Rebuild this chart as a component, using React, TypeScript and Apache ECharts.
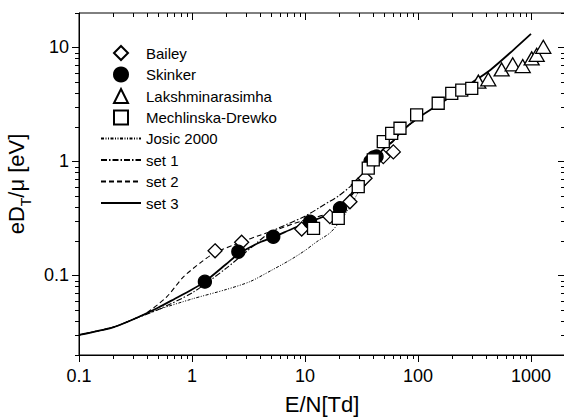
import React, { useEffect, useRef } from "react";
import * as echarts from "echarts";

const X_MIN = 0.1;
const X_MAX = 2000;
const Y_MIN = 0.02;
const Y_MAX = 20;

const xLabelTicks = [0.1, 1, 10, 100, 1000];
const yLabelTicks = [0.1, 1, 10];
// [value, tick length]
const xTickMarks = [
  [0.1, 7], [0.2, 4], [0.3, 4], [0.4, 4], [0.5, 4], [0.6, 4], [0.7, 4], [0.8, 4], [0.9, 4],
  [1, 7], [2, 4], [3, 4], [4, 4], [5, 4], [6, 4], [7, 4], [8, 4], [9, 4],
  [10, 7], [20, 4], [30, 4], [40, 4], [50, 4], [60, 4], [70, 4], [80, 4], [90, 4],
  [100, 7], [200, 4], [300, 4], [400, 4], [500, 4], [600, 4], [700, 4], [800, 4], [900, 4],
  [1000, 7], [2000, 4],
];
const yTickMarks = [
  [0.02, 4], [0.03, 4], [0.04, 4], [0.05, 4], [0.06, 4], [0.07, 4], [0.08, 4], [0.09, 4],
  [0.1, 7], [0.2, 4], [0.3, 4], [0.4, 4], [0.5, 4], [0.6, 4], [0.7, 4], [0.8, 4], [0.9, 4],
  [1, 7], [2, 4], [3, 4], [4, 4], [5, 4], [6, 4], [7, 4], [8, 4], [9, 4],
  [10, 7], [20, 4],
];

const legendNames = [
  "Bailey",
  "Skinker",
  "Lakshminarasimha",
  "Mechlinska-Drewko",
  "Josic 2000",
  "set 1",
  "set 2",
  "set 3",
];

const baileyData = [
  [1.6, 0.164], [2.75, 0.195], [9.35, 0.255], [16.6, 0.327], [25, 0.442],
  [29.6, 0.62], [34, 0.71], [38.9, 0.99], [49.3, 1.1], [60.5, 1.21],
];
const skinkerData = [
  [1.3, 0.088], [2.57, 0.161], [5.24, 0.218], [11.1, 0.295], [20.4, 0.387],
  [38, 1.0], [40.5, 1.08], [43, 1.1],
];
const lakshData = [
  [342, 5.0], [419, 5.24], [550, 6.4], [689, 7.1], [845, 6.85],
  [1014, 8.0], [1123, 8.6], [1285, 10.1],
];
const mechData = [
  [11.9, 0.258], [19.7, 0.316], [29.6, 0.6], [36.3, 0.87], [40.2, 1.03],
  [49.3, 1.49], [58.5, 1.76], [69.3, 1.95], [97.3, 2.55], [151, 3.23],
  [199, 3.95], [244, 4.22], [299, 4.37],
];

const josicLine = [
  [0.1, 0.03], [0.2, 0.035], [0.3, 0.041], [0.4, 0.046], [0.5, 0.05],
  [1, 0.062], [2, 0.075], [3.26, 0.088], [5, 0.11], [7.36, 0.136],
  [10, 0.165], [12.7, 0.197], [16.6, 0.235], [20, 0.29], [25, 0.4],
  [30, 0.55], [35, 0.75], [40, 0.95], [50, 1.3], [60, 1.5], [70, 1.8],
  [100, 2.4],
];
const set1Line = [
  [0.1, 0.03], [0.2, 0.035], [0.3, 0.041], [0.5, 0.05], [1, 0.07],
  [2, 0.115], [3, 0.16], [5, 0.24], [10, 0.33], [15, 0.42], [20, 0.5],
  [28, 0.66], [35, 0.85], [40, 1.02], [50, 1.3], [60, 1.5], [70, 1.8],
  [100, 2.4],
];
const set2Line = [
  [0.1, 0.03], [0.2, 0.035], [0.3, 0.041], [0.4, 0.047], [0.6, 0.065],
  [0.84, 0.097], [1.2, 0.13], [1.6, 0.158], [2.7, 0.195], [4, 0.225],
  [5.2, 0.245], [9.4, 0.3], [15, 0.34], [20, 0.38], [25, 0.48], [30, 0.62],
  [40, 1.0], [50, 1.3], [60, 1.5], [70, 1.8], [100, 2.4],
];
const set3Line = [
  [0.1, 0.03], [0.2, 0.035], [0.3, 0.041], [0.5, 0.052], [0.7, 0.062],
  [1, 0.075], [1.3, 0.088], [2, 0.125], [2.6, 0.155], [4, 0.195],
  [5.2, 0.215], [8, 0.26], [11, 0.295], [15, 0.33], [20, 0.38], [25, 0.5],
  [30, 0.64], [35, 0.82], [40, 1.0], [45, 1.15], [50, 1.3], [60, 1.5],
  [70, 1.8], [100, 2.4], [180, 3.5], [300, 4.9], [434, 6.3], [700, 9.5],
  [1000, 13.1],
];

const FONT = "'Liberation Sans', Arial, Helvetica, sans-serif";
const isPow10 = (v: number) => {
  const l = Math.log10(v);
  return Math.abs(l - Math.round(l)) < 1e-6;
};
const fmt = (v: number) => (isPow10(v) ? String(+v.toPrecision(6)) : "");

const tickStyle = { stroke: "#000", lineWidth: 1 };

export default function App() {
  const ref = useRef<HTMLDivElement>(null);
  useEffect(() => {
    if (!ref.current) return;
    const chart = echarts.init(ref.current, null, { renderer: "svg" });

    const scatter = (name: string, data: number[][], symbol: string, size: any, filled: boolean) => ({
      name,
      type: "scatter",
      data,
      symbol,
      symbolSize: size,
      z: 5,
      itemStyle: {
        color: filled ? "#000" : "#fff",
        borderColor: "#000",
        borderWidth: 1.3,
        opacity: 1,
      },
    });
    const line = (name: string, data: number[][], type: any, width: number) => ({
      name,
      type: "line",
      data,
      symbol: "none",
      smooth: 0.25,
      z: 3,
      lineStyle: { color: "#000", width, type },
      itemStyle: { color: "#000", opacity: 0 },
    });

    const legendText = { color: "#000", fontSize: 15, fontFamily: FONT };
    const legends = legendNames.map((name, i) => {
      const isLine = i >= 4;
      return {
        orient: "vertical",
        left: isLine ? 100 : 113,
        top: 45 + i * 21.5,
        padding: 0,
        itemWidth: isLine ? 40 : 14,
        itemHeight: 14,
        textStyle: isLine ? legendText : { ...legendText, padding: [0, 0, 0, 13] },
        data: [isLine ? { name, itemStyle: { opacity: 0 } } : name],
      };
    });

    chart.setOption({
      animation: false,
      backgroundColor: "#fff",
      grid: {
        left: 79,
        top: 13,
        right: -1,
        bottom: 63,
        containLabel: false,
        outerBoundsMode: "none",
        show: true,
        borderColor: "#000",
        borderWidth: 1,
        backgroundColor: "transparent",
      },
      xAxis: {
        type: "log",
        logBase: 10,
        min: X_MIN,
        max: X_MAX,
        splitLine: { show: false },
        axisLine: { show: true, lineStyle: { color: "#000", width: 1 } },
        axisTick: { show: false },
        axisLabel: {
          customValues: xLabelTicks,
          margin: 12,
          color: "#000",
          fontSize: 18,
          fontFamily: FONT,
          formatter: fmt,
        },
        name: "E/N[Td]",
        nameLocation: "middle",
        nameGap: 38,
        nameTextStyle: { color: "#000", fontSize: 22, fontFamily: FONT },
      },
      yAxis: {
        type: "log",
        logBase: 10,
        min: Y_MIN,
        max: Y_MAX,
        splitLine: { show: false },
        axisLine: { show: true, lineStyle: { color: "#000", width: 1 } },
        axisTick: { show: false },
        axisLabel: {
          customValues: yLabelTicks,
          margin: 10,
          color: "#000",
          fontSize: 18,
          fontFamily: FONT,
          formatter: fmt,
        },
        name: "{a|eD}{s|T}{a|/μ [eV]}",
        nameLocation: "middle",
        nameGap: 25,
        nameTextStyle: {
          color: "#000",
          fontFamily: FONT,
          rich: {
            a: { fontSize: 22, fontFamily: FONT, color: "#000", lineHeight: 28, verticalAlign: "top" },
            s: { fontSize: 14, fontFamily: FONT, color: "#000", lineHeight: 14, verticalAlign: "bottom" },
          },
        },
      },
      legend: legends,
      series: [
        {
          name: "xTicks",
          type: "custom",
          coordinateSystem: "cartesian2d",
          data: xTickMarks.map((t) => [t[0], Y_MIN, t[1]]),
          silent: true,
          clip: false,
          z: 10,
          renderItem: (params: any, api: any) => {
            const v = api.value(0);
            const len = api.value(2);
            const b = api.coord([v, Y_MIN]);
            const t = api.coord([v, Y_MAX]);
            const x = Math.round(b[0]) + 0.5;
            return {
              type: "group",
              children: [
                { type: "line", shape: { x1: x, y1: b[1], x2: x, y2: b[1] + len }, style: tickStyle },
                { type: "line", shape: { x1: x, y1: t[1], x2: x, y2: t[1] + len }, style: tickStyle },
              ],
            };
          },
        },
        {
          name: "yTicks",
          type: "custom",
          coordinateSystem: "cartesian2d",
          data: yTickMarks.map((t) => [X_MIN, t[0], t[1]]),
          silent: true,
          clip: false,
          z: 10,
          renderItem: (params: any, api: any) => {
            const v = api.value(1);
            const len = api.value(2);
            const l = api.coord([X_MIN, v]);
            const r = api.coord([X_MAX, v]);
            const y = Math.round(l[1]) + 0.5;
            return {
              type: "group",
              children: [
                { type: "line", shape: { x1: l[0] - len, y1: y, x2: l[0], y2: y }, style: tickStyle },
                { type: "line", shape: { x1: r[0] - len, y1: y, x2: r[0], y2: y }, style: tickStyle },
              ],
            };
          },
        },
        line("Josic 2000", josicLine, [3, 1.5, 1, 1.5, 1, 1.5], 1),
        line("set 1", set1Line, [6, 2, 1.5, 2], 1.1),
        line("set 2", set2Line, [5, 3], 1.1),
        line("set 3", set3Line, "solid", 1.8),
        scatter("Bailey", baileyData, "diamond", 14, false),
        scatter("Skinker", skinkerData, "circle", 13, true),
        scatter("Lakshminarasimha", lakshData, "triangle", [15, 13], false),
        scatter("Mechlinska-Drewko", mechData, "rect", 12, false),
      ],
    });
    return () => chart.dispose();
  }, []);
  return (
    <div
      ref={ref}
      style={{ position: "absolute", left: 0, top: 0, width: 564, height: 418 }}
    />
  );
}
